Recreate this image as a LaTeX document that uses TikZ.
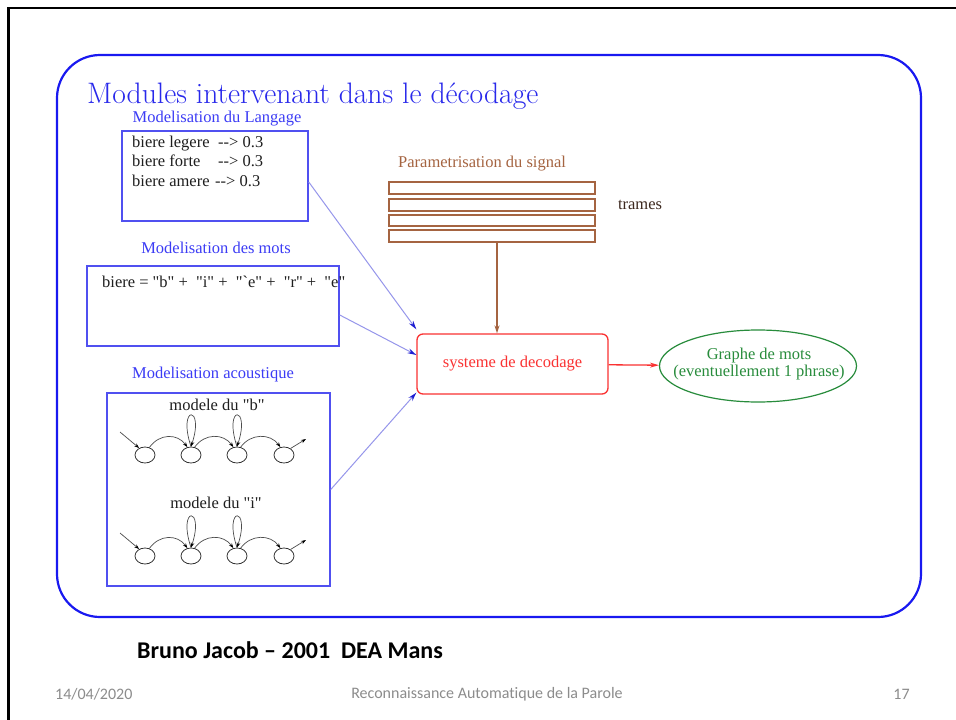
\documentclass[tikz,border=0pt]{standalone}
\usepackage{fontspec}
\newfontfamily\timesf{Liberation Serif}
\newfontfamily\carlf[Ligatures={NoCommon}]{Carlito}
\usetikzlibrary{shapes.geometric,arrows.meta}
\definecolor{ttlblue}{RGB}{40,40,235}
\definecolor{frameblue}{RGB}{25,25,240}
\definecolor{boxblue}{RGB}{80,80,240}
\definecolor{lblblue}{RGB}{60,60,245}
\definecolor{arrblue}{RGB}{150,150,235}
\definecolor{headblue}{RGB}{30,30,210}
\definecolor{decred}{RGB}{250,50,50}
\definecolor{grgreen}{RGB}{40,140,60}
\definecolor{brn}{RGB}{165,100,65}
\definecolor{foot}{RGB}{140,140,140}
\definecolor{ink}{RGB}{30,30,30}
\begin{document}
\begin{tikzpicture}[x=1pt,y=-1pt,
  lbl/.style={font=\timesf\fontsize{16.5}{17.5}\selectfont, inner sep=0pt, text=ink},
  modbox/.style={draw=boxblue, line width=1.5pt, inner sep=0pt},
  st/.style={ellipse, draw=black!80, line width=0.8pt, minimum width=20pt, minimum height=16pt, inner sep=0pt},
  hmm/.style={draw=black!70, line width=0.7pt, -{Stealth[length=5pt,width=3.5pt,color=black]}},
  conn/.style={draw=arrblue, line width=1pt, -{Stealth[length=9pt,width=5pt,color=headblue]}},
  fr/.style={draw=brn, line width=1.6pt, minimum width=206pt, minimum height=11.5pt, inner sep=0pt},
  foottxt/.style={font=\carlf\fontsize{16}{18}\selectfont, text=foot, inner sep=0pt}]
\useasboundingbox (0,0) rectangle (956,720);
\fill[white] (0,0) rectangle (956,720);
\draw[line width=2.5pt] (8.5,720) -- (8.5,8) -- (956,8);
\draw[frameblue, line width=2.2pt, rounded corners=43pt] (57,55) rectangle (921,617);

\node[anchor=base west, text=ttlblue, inner sep=0pt, font=\fontsize{29.6}{32}\selectfont] (title) at (87,103) {Modules intervenant dans le décodage};

% language model
\node[lbl, text=lblblue, anchor=base] (t1) at (217,122) {Modelisation du Langage};
\node[modbox, minimum width=186pt, minimum height=90pt] (box1) at (215,176) {};
\node[lbl, anchor=base west] (l1) at (132,147) {\makebox[86pt][l]{biere legere}-{}-{}> 0.3};
\node[lbl, anchor=base west] (l2) at (132,166) {\makebox[86pt][l]{biere forte}-{}-{}> 0.3};
\node[lbl, anchor=base west] (l3) at (132,186) {\makebox[83pt][l]{biere amere}-{}-{}> 0.3};

% word model
\node[lbl, text=lblblue, anchor=base] (t2) at (216,253) {Modelisation des mots};
\node[modbox, minimum width=252pt, minimum height=80pt] (box2) at (213,306) {};
\node[lbl, anchor=base west] (w) at (102,287) {biere = "b" +\ \ "i" +\ \ "`e" +\ \ "r" +\ \ "e"};

% acoustic model
\node[lbl, text=lblblue, anchor=base] (t3) at (213,378) {Modelisation acoustique};
\node[modbox, minimum width=223pt, minimum height=193pt] (box3) at (218.5,489.5) {};
\node[lbl, anchor=base] (mb) at (217,410) {modele du "b"};
\node[lbl, anchor=base] (mi) at (216,508) {modele du "i"};

\foreach \i/\x in {1/145,2/191,3/237,4/284} {
  \node[st] (a\i) at (\x,455) {};
  \node[st] (b\i) at (\x,556) {};
}
\coordinate (ain) at (120,432);
\coordinate (aout) at (306,439);
\coordinate (bin) at (120,533);
\coordinate (bout) at (306,540);
\foreach \r in {a,b} {
  \draw[hmm] (\r in) -- (\r1.130);
  \draw[hmm] (\r4.45) -- (\r out);
  \draw[hmm] (\r1.60) .. controls +(10,-14) and +(-10,-14) .. (\r2.115);
  \draw[hmm] (\r2.65) .. controls +(10,-14) and +(-10,-14) .. (\r3.115);
  \draw[hmm] (\r3.65) .. controls +(10,-14) and +(-10,-14) .. (\r4.115);
  \draw[hmm] (\r2.north) .. controls +(-14,-42) and +(14,-42) .. (\r2.north);
  \draw[hmm] (\r3.north) .. controls +(-14,-42) and +(14,-42) .. (\r3.north);
}

% signal parametrisation
\node[lbl, text=brn, anchor=base west] (pt) at (398,167) {Parametrisation du signal};
\node[fr] (f1) at (492,188) {};
\node[fr] (f2) at (492,205) {};
\node[fr] (f3) at (492,220.5) {};
\node[fr] (f4) at (492,236) {};
\node[lbl, text={rgb,255:red,60;green,40;blue,30}] (tr) at (640,205) {trames};

% decoder
\node[draw=decred, line width=1.3pt, rounded corners=6pt, minimum width=191pt, minimum height=60pt, text=decred, font=\timesf\fontsize{16.5}{17.5}\selectfont, inner sep=0pt] (dec) at (512.5,364) {systeme de decodage};
\node[ellipse, draw=grgreen, line width=1.2pt, minimum width=197pt, minimum height=72pt, inner sep=0pt] (gr) at (758,366) {};
\node[text=grgreen, align=center, inner sep=0pt, font=\timesf\fontsize{16.5}{17.5}\selectfont] (grt) at (759,364) {Graphe de mots\\(eventuellement 1 phrase)};

\draw[conn] ([yshift=-6pt]box1.east) -- ([yshift=4pt]dec.north west);
\draw[conn] ([yshift=-9pt]box2.east) -- ([yshift=9pt]dec.west);
\draw[conn] (box3.east) -- ([yshift=2pt]dec.south west);
\draw[brn, line width=1.3pt, -{Stealth[length=8pt,width=5pt]}] ([xshift=5pt]f4.south) -- ([xshift=-15.5pt]dec.north);
\draw[decred, line width=1.3pt, -{Stealth[length=9pt,width=5pt]}] (dec) -- (gr);

% footer
\node[anchor=west, inner sep=0pt, font=\carlf\bfseries\fontsize{24}{26}\selectfont] (auth) at (137,650) {Bruno Jacob – 2001\ \ DEA Mans};
\node[foottxt, anchor=west] (date) at (55,694) {14/04/2020};
\node[foottxt] (course) at (487,694) {Reconnaissance Automatique de la Parole};
\node[foottxt] (page) at (901.5,694) {17};
\end{tikzpicture}
\end{document}
